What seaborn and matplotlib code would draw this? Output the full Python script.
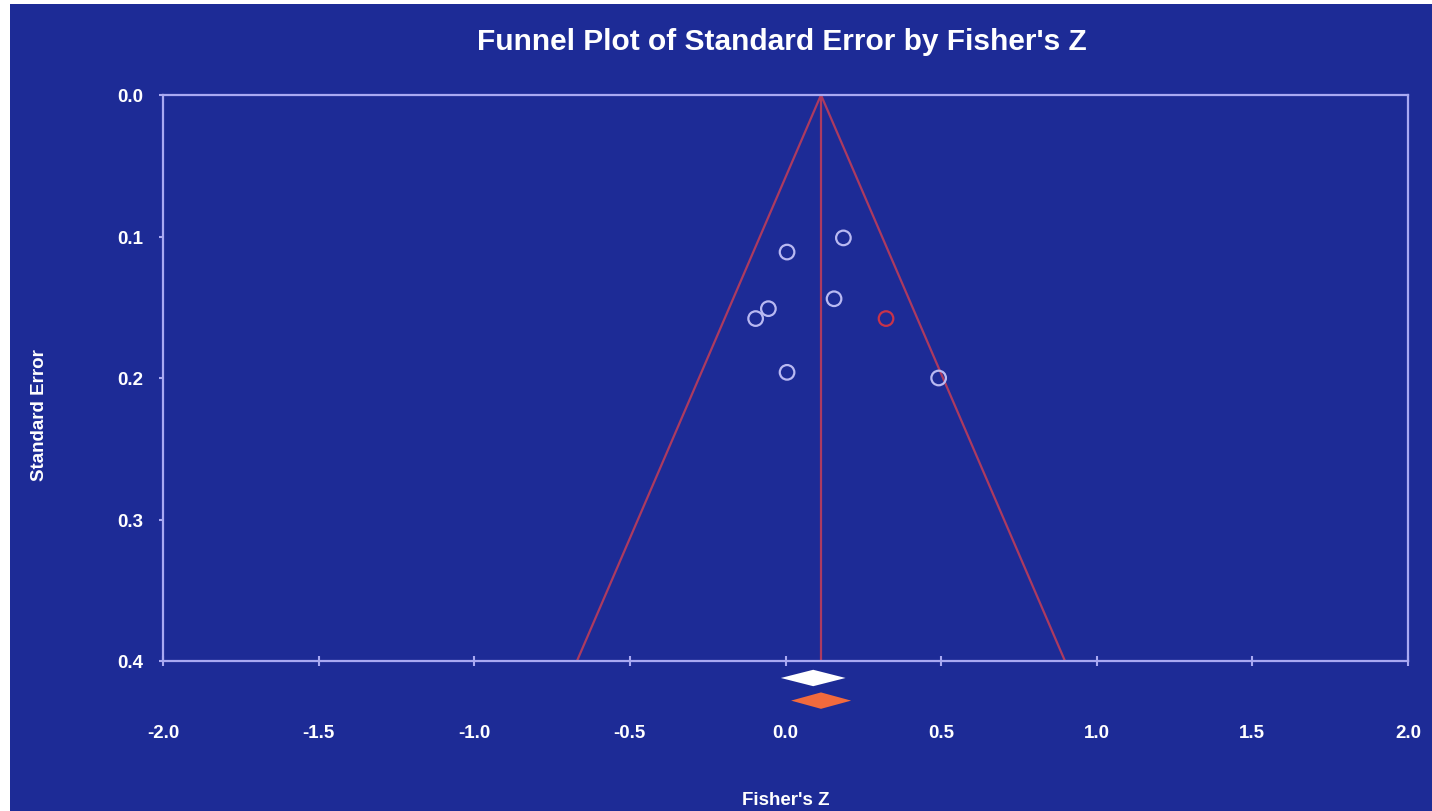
import matplotlib
matplotlib.use("Agg")
import matplotlib.pyplot as plt
import matplotlib.patches as mpatches
import numpy as np
import pandas as pd
import seaborn as sns

# Observed studies
fisher_z = [0.186, 0.005, -0.055, -0.096, 0.156, 0.005, 0.492]
std_err = [0.101, 0.111, 0.151, 0.158, 0.144, 0.196, 0.200]

# Imputed study (trim and fill)
imputed_z = [0.323]
imputed_se = [0.158]

# Pooled estimates: (point, lower, upper)
observed_pooled = (0.089, -0.015, 0.193)
adjusted_pooled = (0.114, 0.018, 0.211)
funnel_center = 0.114

x_ticks = [-2.0, -1.5, -1.0, -0.5, 0.0, 0.5, 1.0, 1.5, 2.0]
y_ticks = [0.0, 0.1, 0.2, 0.3, 0.4]

BG = "#1D2B96"
AXIS = "#A9A9F2"
FUNNEL = "#AC3A60"
POINT = "#B9B9F2"
IMPUTED = "#C8334A"
ORANGE = "#F26A3D"

sns.set_theme(style="white")
plt.rcParams["font.family"] = ["Liberation Sans", "DejaVu Sans"]
plt.rcParams["font.weight"] = "bold"

fig = plt.figure(figsize=(14.32, 8.12), dpi=100, facecolor="white")
fig.patches.append(mpatches.Rectangle((10 / 1432, 0), 1 - 10 / 1432, 1 - 5 / 812,
                                      transform=fig.transFigure, facecolor=BG,
                                      edgecolor="none", zorder=-10))
ax = fig.add_axes([163 / 1432, 1 - 662 / 812, (1408 - 163) / 1432, (662 - 96) / 812])
ax.set_facecolor(BG)

# Funnel (95% pseudo-confidence limits)
se_line = np.array([0.0, 0.4])
ax.plot(funnel_center - 1.96 * se_line, se_line, color=FUNNEL, lw=1.6, zorder=2)
ax.plot(funnel_center + 1.96 * se_line, se_line, color=FUNNEL, lw=1.6, zorder=2)
ax.plot([funnel_center, funnel_center], [0.0, 0.4], color=FUNNEL, lw=1.6, zorder=2)

studies = pd.DataFrame({"z": fisher_z, "se": std_err})
imputed = pd.DataFrame({"z": imputed_z, "se": imputed_se})
sns.scatterplot(data=studies, x="z", y="se", ax=ax, marker="o", s=110,
                facecolor="none", edgecolor=POINT, linewidth=1.6, zorder=3)
sns.scatterplot(data=imputed, x="z", y="se", ax=ax, marker="o", s=110,
                facecolor="none", edgecolor=IMPUTED, linewidth=1.6, zorder=3)


def diamond(est, y, half_h, color):
    pt, lo, hi = est
    ax.fill([lo, pt, hi, pt], [y, y - half_h, y, y + half_h], color=color,
            clip_on=False, zorder=4, lw=0)


diamond(observed_pooled, 0.412, 0.0058, "white")
diamond(adjusted_pooled, 0.428, 0.0058, ORANGE)

ax.set_xlim(-2.0, 2.0)
ax.set_ylim(0.4, 0.0)
ax.set_xticks(x_ticks)
ax.set_yticks(y_ticks)
ax.set_xticklabels([f"{t:.1f}" for t in x_ticks])
ax.set_yticklabels([f"{t:.1f}" for t in y_ticks])

for side in ["left", "right", "top", "bottom"]:
    ax.spines[side].set_visible(True)
    ax.spines[side].set_color(AXIS)
    ax.spines[side].set_linewidth(1.6)

ax.tick_params(axis="x", direction="inout", length=7, width=1.5, color=AXIS,
               pad=42, labelsize=13.5, labelcolor="white", bottom=True)
ax.tick_params(axis="y", direction="out", length=3, width=1.5, color=AXIS,
               pad=11, labelsize=13.5, labelcolor="white", left=True)
for lbl in ax.get_xticklabels() + ax.get_yticklabels():
    lbl.set_fontweight("bold")

ax.set_xlabel("Fisher's Z", color="white", fontsize=13.5, fontweight="bold")
ax.set_ylabel("Standard Error", color="white", fontsize=13.5, fontweight="bold")
ax.xaxis.set_label_coords(0.5, -0.2297)
ax.yaxis.set_label_coords(-0.0924, 0.436)

fig.text(782 / 1432, 1 - 42 / 812, "Funnel Plot of Standard Error by Fisher's Z",
         ha="center", va="center", color="white", fontsize=21.5, fontweight="bold")

fig.savefig("out.png", dpi=100, facecolor=fig.get_facecolor())
